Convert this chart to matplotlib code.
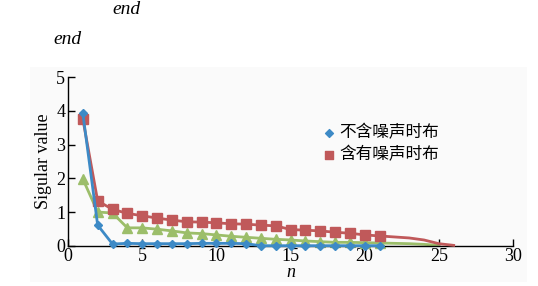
import numpy as np
import matplotlib
matplotlib.use('Agg')
import matplotlib.pyplot as plt
from matplotlib.patches import Rectangle

# singular values
n = np.arange(1, 27)
blue_n = np.arange(1, 22)
blue_vals = [3.93, 0.61, 0.05, 0.07, 0.06, 0.06, 0.06, 0.06, 0.07, 0.07, 0.07, 0.06,
             0.0, 0.0, 0.0, 0.0, 0.0, 0.0, 0.0, 0.0, 0.0]
red_vals = [3.76, 1.33, 1.08, 0.96, 0.89, 0.82, 0.76, 0.71, 0.70, 0.68, 0.65, 0.64,
            0.61, 0.59, 0.48, 0.46, 0.44, 0.40, 0.37, 0.32, 0.29, 0.26, 0.23, 0.17,
            0.06, 0.01]
green_n = np.arange(1, 26)
green_vals = [1.98, 1.0, 0.97, 0.53, 0.53, 0.49, 0.44, 0.38, 0.36, 0.32, 0.28, 0.25,
              0.22, 0.19, 0.17, 0.14, 0.12, 0.10, 0.10, 0.09, 0.08, 0.07, 0.06, 0.04,
              0.01]
labels = ['不含噪声时布', '含有噪声时布']

blue = '#3d8ac6'
red = '#c0595a'
green = '#9cbe6a'
serif = 'Liberation Serif'
cjk = ['Noto Sans CJK SC', 'DejaVu Sans']

fig = plt.figure(figsize=(5.38, 2.86), dpi=100)
# faint grey panel behind the chart
fig.patches.append(Rectangle((30 / 538, 1 - 282 / 286), 497 / 538, 215 / 286,
                             transform=fig.transFigure, facecolor='#fafafa',
                             edgecolor='none', zorder=-5))
ax = fig.add_axes([68 / 538, 1 - 245.7 / 286, 445 / 538, 168.4 / 286])
ax.set_zorder(2)
ax.set_facecolor('none')

ax.plot(n, red_vals, color=red, lw=2, marker='s', ms=6.5, markevery=list(range(21)),
        clip_on=False, zorder=3)
ax.plot(green_n, green_vals, color=green, lw=2, marker='^', ms=6.5,
        markevery=list(range(21)), clip_on=False, zorder=2)
ax.plot(blue_n, blue_vals, color=blue, lw=2, marker='D', ms=4.5, clip_on=False, zorder=4)

# legend shows markers only
h1 = ax.scatter([], [], marker='D', s=16, color=blue)
h2 = ax.scatter([], [], marker='s', s=30, color=red)
leg = ax.legend([h1, h2], labels, loc='upper left', bbox_to_anchor=(0.545, 0.77),
                frameon=False, prop={'family': cjk, 'size': 12}, handletextpad=0.05,
                labelspacing=0.3, borderpad=0, handlelength=1.2)

ax.set_xlim(0, 30)
ax.set_ylim(0, 5)
ax.set_xticks([0, 5, 10, 15, 20, 25, 30])
ax.set_yticks([0, 1, 2, 3, 4, 5])
for s in ['top', 'right']:
    ax.spines[s].set_visible(False)
ax.spines['left'].set_linewidth(1)
ax.spines['bottom'].set_linewidth(1)
ax.tick_params(direction='in', length=5, width=1, labelsize=13, pad=2)
for lab in ax.get_xticklabels() + ax.get_yticklabels():
    lab.set_family(serif)

ax.set_ylabel('Sigular value', family=serif, fontsize=13, labelpad=3)
ax.set_xlabel('n', family=serif, style='italic', fontsize=13, labelpad=-1)

fig.text(112 / 538, 1 - 9 / 286, 'end', family=serif, style='italic', fontsize=14,
         ha='left', va='center')
fig.text(53 / 538, 1 - 40 / 286, 'end', family=serif, style='italic', fontsize=14,
         ha='left', va='center')

fig.savefig('out.png', dpi=100)
